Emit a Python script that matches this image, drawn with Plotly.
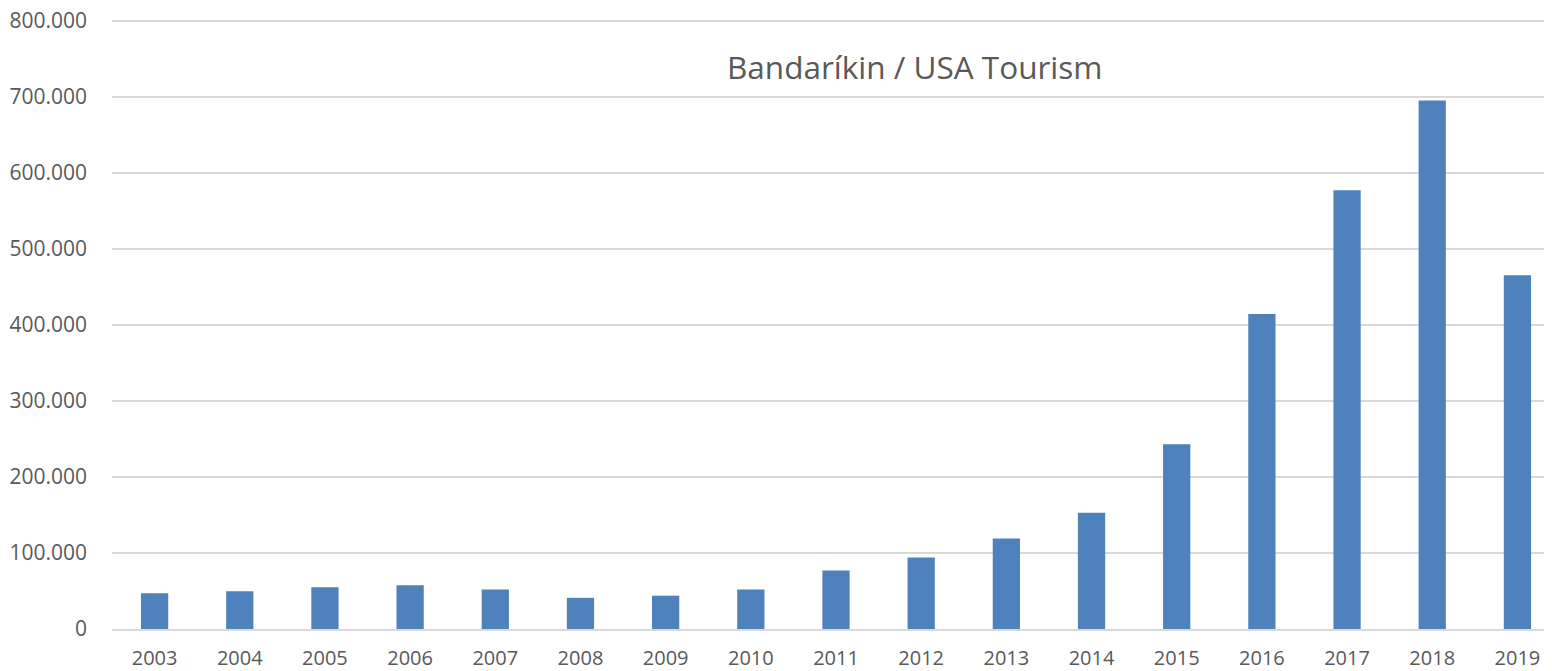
import plotly.graph_objects as go

years = [str(y) for y in range(2003, 2020)]
visitors = [47000, 49500, 55000, 57500, 52000, 41000, 43800, 52000, 77000,
            94000, 119000, 153000, 243000, 414000, 577000, 695000, 465000]

grid_col = '#d9d9d9'
txt_col = '#595959'

fig = go.Figure(go.Bar(x=years, y=visitors, marker_color='#4f81bd',
                       marker_line_width=0, width=0.32))

# the page body adds an 8px offset, so margins are shifted by 8px
fig.update_layout(
    width=1552, height=671,
    plot_bgcolor='#FFF', paper_bgcolor='#FFF',
    margin=dict(l=104, r=8, t=11, b=50),
    separators=',.',
    font=dict(family='Open Sans', color=txt_col, size=21),
    showlegend=False,
    xaxis=dict(type='category', range=[-0.5, 16.406], showgrid=False,
               showline=True, linecolor=grid_col, linewidth=2, automargin=False,
               ticks='', ticklabelstandoff=10, tickfont=dict(size=20)),
    yaxis=dict(range=[0, 802000], dtick=100000, tickformat=',.0f',
               showgrid=True, gridcolor=grid_col, gridwidth=2, automargin=False,
               zeroline=False, ticklabelstandoff=24, ticklabeloverflow='allow',
               tickfont=dict(size=21)),
    annotations=[dict(text='Bandaríkin / USA Tourism', xref='paper', yref='paper',
                      x=0.5576, y=0.9227, xanchor='center', yanchor='middle',
                      showarrow=False, font=dict(size=31.5, color=txt_col))],
)

fig.write_html("out.html")
